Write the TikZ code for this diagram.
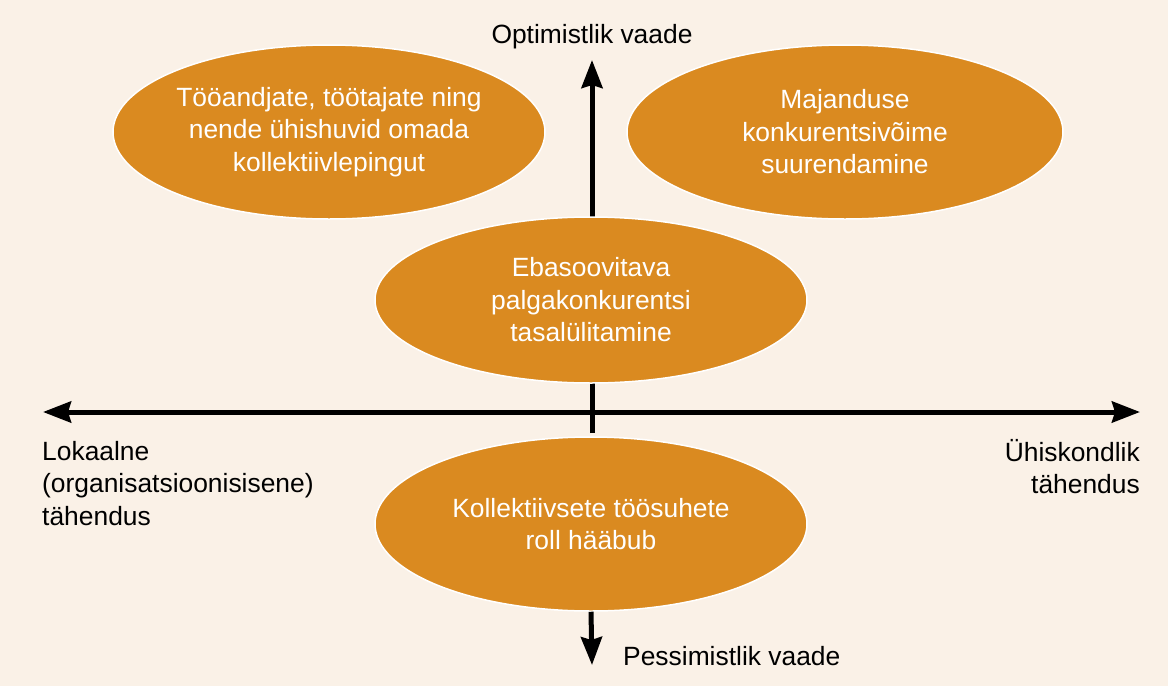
\documentclass[tikz,border=0pt]{standalone}
\usepackage{fontspec}
\setmainfont{Liberation Sans}
\usepackage{xcolor}
\usetikzlibrary{arrows.meta, positioning, shapes.geometric}

\definecolor{paper}{HTML}{FAF1E7}
\definecolor{ochre}{HTML}{DA8A20}

\begin{document}
\begin{tikzpicture}[x=1pt, y=-1pt,
  every node/.style={font=\fontsize{26.4}{32.5}\selectfont},
  bubble/.style={ellipse, fill=ochre, draw=white, line width=1.5pt, text=white,
    align=center, inner sep=0pt, minimum width=432pt, minimum height=174pt},
  axis/.style={line width=5pt},
  lbl/.style={inner sep=0pt}]
  % Background
  \fill[paper] (0,0) rectangle (1168,686);
  \useasboundingbox (0,0) rectangle (1168,686);

  % Axes
  \coordinate (west) at (43,412);
  \coordinate (east) at (1140,412);
  \coordinate (north) at (592,60);
  \coordinate (cross) at (592,433);
  \coordinate (south) at (592,665);
  \draw[axis, {Stealth[length=28pt, width=21pt, inset=3pt]}-{Stealth[length=28pt, width=21pt, inset=3pt]}]
    (west) -- (east);
  \draw[axis, -{Stealth[length=28pt, width=21pt, inset=3pt]}] (cross) -- (north);

  % Ellipses
  \node[bubble] (shared) at (329,132)
    {Tööandjate, töötajate ning\\nende ühishuvid omada\\kollektiivlepingut};
  \node[bubble, minimum width=436pt] (economy) at (845,132)
    {Majanduse\\konkurentsivõime\\suurendamine};
  \node[bubble, minimum height=166pt] (wages) at (591,300)
    {Ebasoovitava\\palgakonkurentsi\\tasalülitamine};
  \node[bubble] (fading) at (591,524)
    {Kollektiivsete töösuhete\\roll hääbub};
  \draw[axis, -{Stealth[length=28pt, width=21pt, inset=3pt]}] (fading.south) -- (south);

  % Axis labels
  \node[lbl, anchor=base] (optimist) at (592,43) {Optimistlik vaade};
  \node[lbl, anchor=base west] (pessimist) at (623,665) {Pessimistlik vaade};
  \node[lbl, anchor=north west, align=left] (local) at (42,441)
    {Lokaalne\\(organisatsioonisisene)\\tähendus};
  \node[lbl, anchor=north east, align=right] (social) at (1140,439)
    {Ühiskondlik\\tähendus};
\end{tikzpicture}
\end{document}
